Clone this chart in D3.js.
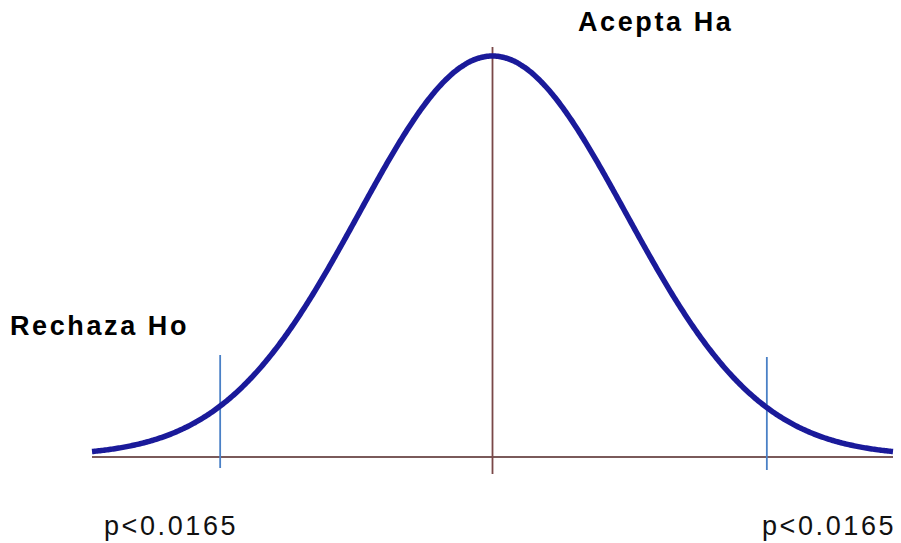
<!DOCTYPE html>
<html><head><meta charset="utf-8">
<script src="https://cdn.jsdelivr.net/npm/d3@7"></script>
<style>body{margin:0;background:#fff}svg{display:block}</style>
</head><body>
<svg id="c" width="901" height="543"></svg>
<script>
// data
const zDomain = [-3, 3];
const criticalZ = [-2.04, 2.055];
const labelTop = "Acepta Ha";
const labelLeft = "Rechaza Ho";
const pLabels = ["p<0.0165", "p<0.0165"];
const zSamples = d3.range(-300, 301).map(i => i / 100);

const pdf = z => Math.exp(-z * z / 2) / Math.sqrt(2 * Math.PI);
const svg = d3.select("#c");
const x = d3.scaleLinear().domain(zDomain).range([92, 893]);
const y = d3.scaleLinear().domain([0, pdf(0)]).range([456, 56]);

// axes
svg.append("line").attr("x1", 92).attr("x2", 893).attr("y1", 457).attr("y2", 457)
  .attr("stroke", "#7a5a5a").attr("stroke-width", 2.2);
svg.append("line").attr("x1", x(0)).attr("x2", x(0)).attr("y1", 47).attr("y2", 474)
  .attr("stroke", "#7a4848").attr("stroke-width", 1.8);

// critical lines
criticalZ.forEach((z, i) => {
  svg.append("line").attr("x1", x(z)).attr("x2", x(z))
    .attr("y1", i === 0 ? 355 : 357).attr("y2", i === 0 ? 468 : 470)
    .attr("stroke", "#4a80c6").attr("stroke-width", 1.8);
});

// curve
svg.append("path").datum(zSamples)
  .attr("d", d3.line().x(d => x(d)).y(d => y(pdf(d))).curve(d3.curveBasis))
  .attr("fill", "none").attr("stroke", "#1a1a9a").attr("stroke-width", 5.5);

// labels
const font = "'Liberation Sans', Arial, sans-serif";
svg.append("text").attr("x", 578).attr("y", 31).text(labelTop)
  .attr("font-family", font).attr("font-weight", "bold").attr("font-size", 27)
  .attr("letter-spacing", 2.6).attr("fill", "#000");
svg.append("text").attr("x", 10).attr("y", 335).text(labelLeft)
  .attr("font-family", font).attr("font-weight", "bold").attr("font-size", 27)
  .attr("letter-spacing", 2.6).attr("fill", "#000");
svg.append("text").attr("x", 104).attr("y", 535).text(pLabels[0])
  .attr("font-family", font).attr("font-size", 27).attr("letter-spacing", 2.6).attr("fill", "#111");
svg.append("text").attr("x", 762).attr("y", 535).text(pLabels[1])
  .attr("font-family", font).attr("font-size", 27).attr("letter-spacing", 2.6).attr("fill", "#111");
</script>
</body></html>
